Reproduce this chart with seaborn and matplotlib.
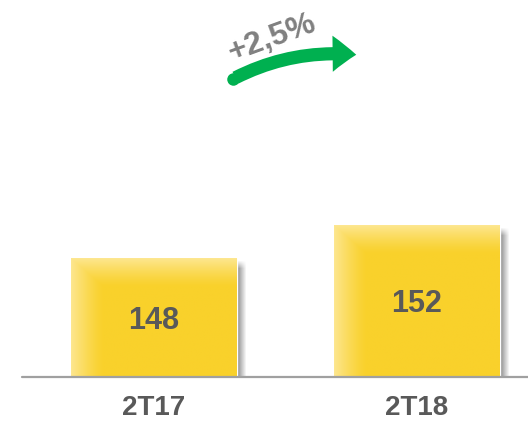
import numpy as np
import pandas as pd
import matplotlib
matplotlib.use("Agg")
import matplotlib.pyplot as plt
import seaborn as sns
from matplotlib.patches import FancyArrowPatch

periods = ["2T17", "2T18"]
values = [148, 152]
growth_label = "+2,5%"

base_col = np.array([249, 209, 43]) / 255
light_col = np.array([253, 230, 143]) / 255
text_col = "#595959"

sns.set_style("white")
plt.rcParams["font.family"] = ["Liberation Sans", "DejaVu Sans"]

df = pd.DataFrame({"period": periods, "value": values})

fig = plt.figure(figsize=(5.28, 4.21), dpi=100)
ax = fig.add_axes([0, 44 / 421, 1, 377 / 421])

sns.barplot(data=df, x="period", y="value", color=base_col, width=0.63,
            saturation=1, ax=ax, zorder=2)

y0, y1 = 134.1, 178.5
ax.set_ylim(y0, y1)
ax.set_xlim(-154 / 263, 374 / 263)

# px per data unit, used for the bevel / shadow sizes
px_x = 263
px_y = 377 / (y1 - y0)

for p, v in zip(ax.patches, values):
    xl, w = p.get_x(), p.get_width()
    top = p.get_height()
    wpx = int(w * px_x)
    hpx = int((top - y0) * px_y)
    xs = np.arange(wpx)
    ys = np.arange(hpx)
    fx = np.clip(1 - xs / 32, 0, 1)[None, :]
    fy = np.clip(1 - ys / 28, 0, 1)[:, None]
    f = np.maximum(fx, fy) ** 1.3
    img = base_col[None, None, :] + (light_col - base_col)[None, None, :] * f[..., None]
    ax.imshow(img, extent=[xl, xl + w, y0, top], aspect="auto", zorder=3,
              interpolation="bilinear")
    # soft shadow on the right side
    sw = 10
    sh = np.linspace(0.45, 0, sw)[None, :]
    shade = np.zeros((hpx, sw, 4))
    yfade = np.clip(np.arange(hpx) / 8, 0, 1)[:, None]
    shade[..., 3] = sh * yfade
    ax.imshow(shade, extent=[xl + w, xl + w + sw / px_x, y0, top - 2 / px_y],
              aspect="auto", zorder=1, interpolation="bilinear")
    ax.text(xl + w / 2, (y0 + top) / 2 - 3 / px_y, str(v), ha="center", va="center",
            fontsize=22, fontweight="bold", color=text_col, zorder=4)

ax.set_xlim(-154 / 263, 374 / 263)
ax.set_ylim(y0, y1)
ax.axhline(y0 + 0.5 / px_y, xmin=22 / 528, xmax=1, color="#A0A0A0", lw=1.6,
           zorder=5, clip_on=False)
for s in ax.spines.values():
    s.set_visible(False)
ax.set_yticks([])
ax.set_xlabel("")
ax.set_ylabel("")
ax.tick_params(axis="x", length=0, pad=13)
for lab in ax.get_xticklabels():
    lab.set_fontsize(20)
    lab.set_fontweight("bold")
    lab.set_color(text_col)


def fpos(x, y):
    return (x / 528, 1 - y / 421)


arrow = FancyArrowPatch(fpos(233, 79), fpos(359, 55), transform=fig.transFigure,
                        connectionstyle="arc3,rad=-0.15",
                        arrowstyle="simple,tail_width=9.5,head_width=26,head_length=17",
                        mutation_scale=1, color="#00B050", lw=0)
fig.patches.append(arrow)
fig.add_artist(plt.Line2D([fpos(233, 79)[0]], [fpos(233, 79)[1]], marker="o",
                          markersize=9, color="#00B050", mec="none",
                          transform=fig.transFigure))
fig.text(*fpos(272, 38), growth_label, ha="center", va="center", rotation=20,
         fontsize=23, fontweight="bold", color="#808080")

fig.savefig("out.png", dpi=100)
